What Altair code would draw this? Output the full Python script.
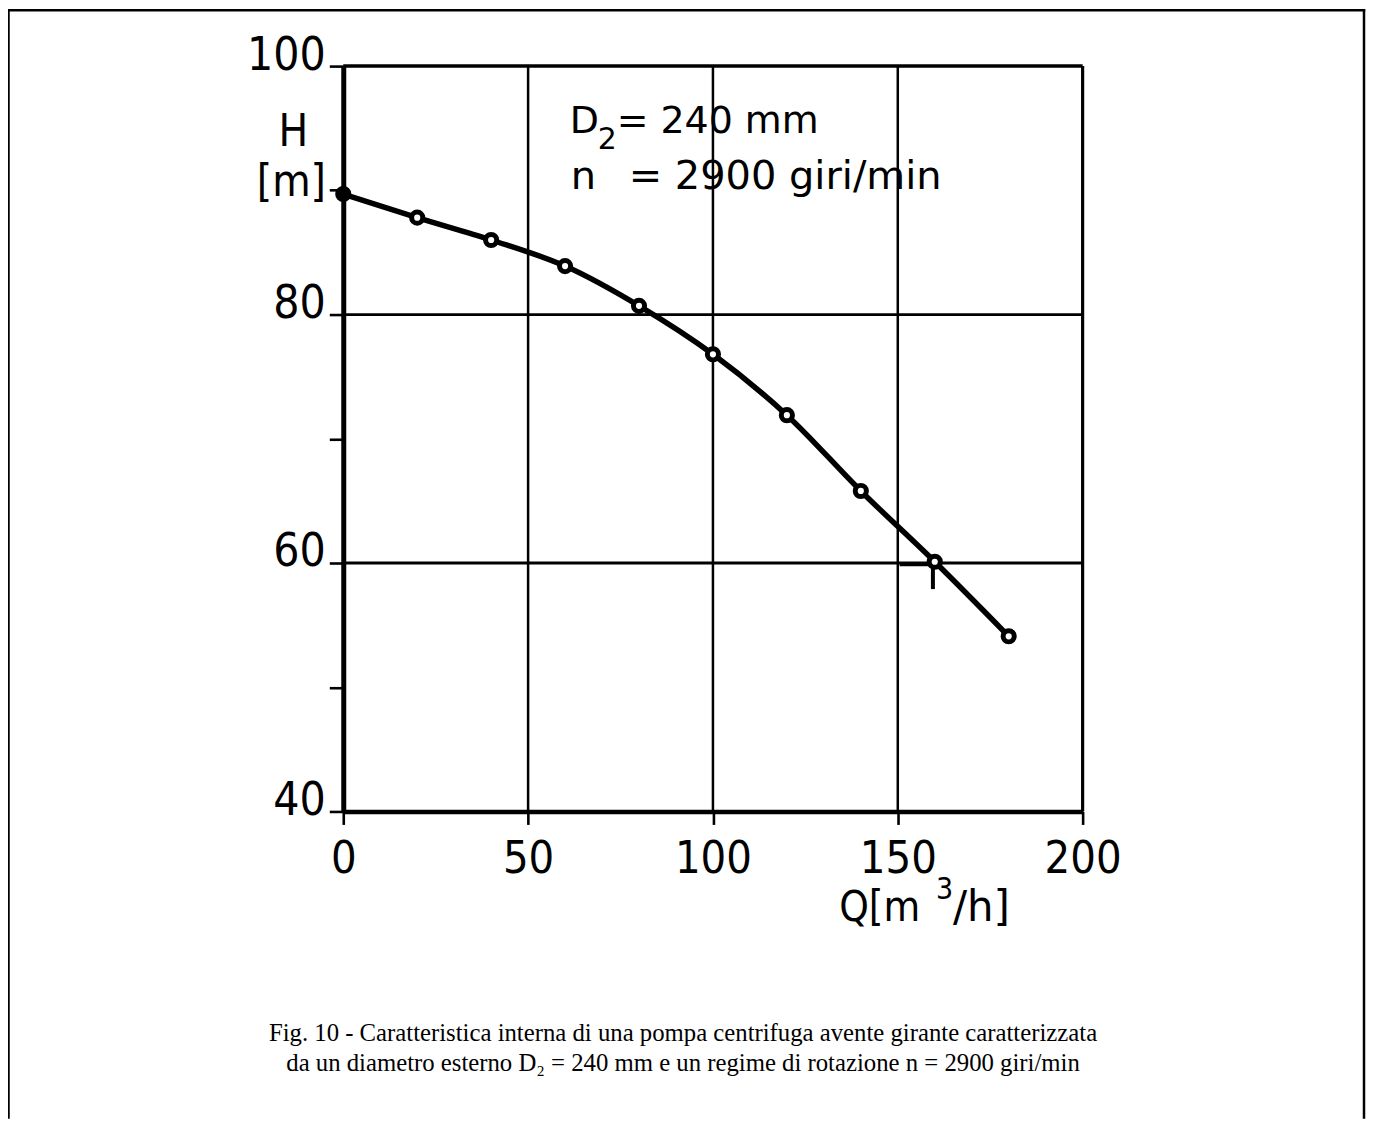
import altair as alt
import pandas as pd

# ---- data ----
Q = [0, 20, 40, 60, 80, 100, 120, 140, 160, 180]
H = [89.7, 87.8, 86.0, 83.9, 80.7, 76.8, 71.9, 65.8, 60.1, 54.1]
KIND = ["solid", "open", "open", "open", "open", "open", "open", "open", "open", "open"]

X_TICKS = [0, 50, 100, 150, 200]
Y_TICKS = [40, 50, 60, 70, 80, 90, 100]
Y_GRID = [60, 80]
X_GRID = [50, 100, 150]
Y_TOP = [100]
X_RIGHT = [200]

# small "T" shaped mark near the 160 m3/h point
MARK_H_Q = [150.5]
MARK_H_Q2 = [159.5]
MARK_H_H = [59.9]
MARK_V_Q = [159.5]
MARK_V_H = [60.0]
MARK_V_H2 = [57.9]

ANNOT_1 = "D"
ANNOT_1_SUB = "2"
ANNOT_1_REST = "= 240 mm"
ANNOT_2 = "n"
ANNOT_2_REST = "= 2900 giri/min"
Y_TITLE_1 = "H"
Y_TITLE_2 = "[m]"
X_TITLE_A = "Q[m"
X_TITLE_SUP = "3"
X_TITLE_B = "/h]"
CAPTION_1 = "Fig. 10 - Caratteristica interna di una pompa centrifuga avente girante caratterizzata"
CAPTION_2 = "da un diametro esterno D\u2082 = 240 mm e un regime di rotazione n = 2900 giri/min"

W, HGT = 741, 747
TECH = "DejaVu Sans Condensed, DejaVu Sans, sans-serif"
WIDE = "DejaVu Sans, sans-serif"
SERIF = "Liberation Serif, Times New Roman, serif"

df = pd.DataFrame({"Q": Q, "H": H, "kind": KIND})

xscale = alt.Scale(domain=[0, 200], nice=False, zero=False)
yscale = alt.Scale(domain=[40, 100], nice=False, zero=False)

x_axis = alt.Axis(values=X_TICKS, title=None, grid=False, tickSize=13, tickWidth=2.6,
                  tickColor="black", domainColor="black", domainWidth=4.5,
                  labelFont=TECH, labelFontSize=45, labelColor="black",
                  labelBaseline="alphabetic", labelPadding=48, labelFlush=False)
y_axis = alt.Axis(values=Y_TICKS, title=None, grid=False, tickSize=14, tickWidth=2.6,
                  tickColor="black", domainColor="black", domainWidth=5,
                  labelFont=TECH, labelFontSize=46, labelColor="black",
                  labelBaseline="alphabetic", labelOffset=3, labelPadding=4,
                  labelExpr="datum.value % 20 == 0 ? datum.label : ''")

curve = alt.Chart(df).mark_line(interpolate="monotone", color="black", strokeWidth=5.5).encode(
    x=alt.X("Q:Q", scale=xscale, axis=x_axis),
    y=alt.Y("H:Q", scale=yscale, axis=y_axis),
)

points = alt.Chart(df).mark_point(shape="circle", size=125, stroke="black", strokeWidth=5,
                                  opacity=1, fillOpacity=1, filled=False).encode(
    x="Q:Q", y="H:Q",
    fill=alt.Fill("kind:N", scale=alt.Scale(domain=["solid", "open"], range=["black", "white"]),
                  legend=None),
)

grid_h = alt.Chart(pd.DataFrame({"g": Y_GRID})).mark_rule(color="black", strokeWidth=2.8).encode(
    y=alt.Y("g:Q", scale=yscale))
grid_v = alt.Chart(pd.DataFrame({"g": X_GRID})).mark_rule(color="black", strokeWidth=2.5).encode(
    x=alt.X("g:Q", scale=xscale))
top_line = alt.Chart(pd.DataFrame({"g": Y_TOP})).mark_rule(color="black", strokeWidth=3.5).encode(
    y=alt.Y("g:Q", scale=yscale))
right_line = alt.Chart(pd.DataFrame({"g": X_RIGHT})).mark_rule(color="black", strokeWidth=3.2).encode(
    x=alt.X("g:Q", scale=xscale))

mark_h = alt.Chart(pd.DataFrame({"q": MARK_H_Q, "q2": MARK_H_Q2, "h": MARK_H_H})).mark_rule(
    color="black", strokeWidth=4).encode(x=alt.X("q:Q", scale=xscale), x2="q2:Q",
                                          y=alt.Y("h:Q", scale=yscale))
mark_v = alt.Chart(pd.DataFrame({"q": MARK_V_Q, "h": MARK_V_H, "h2": MARK_V_H2})).mark_rule(
    color="black", strokeWidth=4).encode(x=alt.X("q:Q", scale=xscale),
                                          y=alt.Y("h:Q", scale=yscale), y2="h2:Q")


def label(text, x, y, size, font=TECH, align="left"):
    return alt.Chart(pd.DataFrame({"t": [text]})).mark_text(
        align=align, baseline="alphabetic", font=font, fontSize=size, color="black"
    ).encode(x=alt.value(x), y=alt.value(y), text="t:N")


texts = [
    label(ANNOT_1, 227, 67, 38, font=WIDE),
    label(ANNOT_1_SUB, 255, 83, 30, font=WIDE),
    label(ANNOT_1_REST, 274, 67, 38, font=WIDE),
    label(ANNOT_2, 228, 123, 40, font=WIDE),
    label(ANNOT_2_REST, 286, 123, 40, font=WIDE),
    label(Y_TITLE_1, -50, 80, 44, align="center"),
    label(Y_TITLE_2, -52, 130, 44, align="center"),
    label(X_TITLE_A, 497, 857, 42),
    label(X_TITLE_SUP, 594, 835, 30),
    label(X_TITLE_B, 611, 857, 42, font=WIDE),
    label(CAPTION_1, 340.5, 977, 24.8, font=SERIF, align="center"),
    label(CAPTION_2, 340.5, 1007, 24.8, font=SERIF, align="center"),
]

frame_data = pd.DataFrame({"f": [0]})
frame_left = alt.Chart(frame_data).mark_rule(color="black", strokeWidth=2.5).encode(
    x=alt.value(-335.5), y=alt.value(-57), y2=alt.value(1055))
frame_right = alt.Chart(frame_data).mark_rule(color="black", strokeWidth=2.5).encode(
    x=alt.value(1023), y=alt.value(-57), y2=alt.value(1055))
frame_top = alt.Chart(frame_data).mark_rule(color="black", strokeWidth=2.5).encode(
    x=alt.value(-336), x2=alt.value(1024.25), y=alt.value(-56))

chart = alt.layer(
    grid_h, grid_v, top_line, right_line, mark_h, mark_v, curve, points,
    *texts, frame_left, frame_right, frame_top
).properties(
    width=W, height=HGT,
    autosize=alt.AutoSizeParams(type="none"),
    padding={"left": 336, "top": 57, "right": 284, "bottom": 308},
).configure_view(stroke=None).configure(background="white")

chart.save("out.html", embed_options={"renderer": "svg", "actions": False})
